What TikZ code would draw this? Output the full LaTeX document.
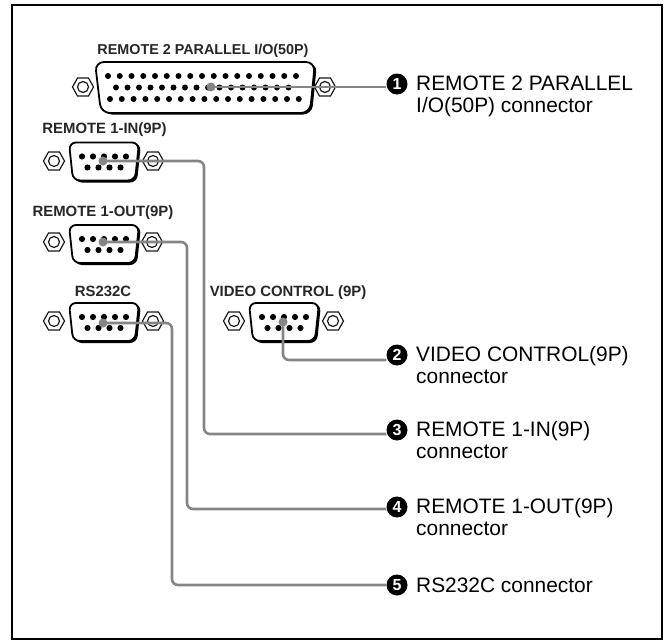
\documentclass[tikz,border=0pt]{standalone}
\usepackage{fontspec}
\setmainfont{Liberation Sans}
\definecolor{leadgray}{HTML}{858585}
\tikzset{
  x=1pt,y=-1pt,
  frame/.style={draw=black,line width=2pt},
  lead/.style={draw=leadgray,line width=2.6pt,rounded corners=6pt},
  pindot/.style={circle,fill=leadgray,inner sep=0pt,minimum size=9pt},
  badge/.style={circle,fill=black,text=white,inner sep=0pt,minimum size=21pt,font=\fontsize{16}{16}\selectfont\bfseries},
  desc/.style={anchor=base west,inner sep=0pt,align=left,font=\fontsize{20.9}{21.6}\selectfont},
  head/.style={inner sep=0pt,font=\fontsize{14.9}{15}\selectfont\bfseries,text=black!85},
  headwide/.style={inner sep=0pt,font=\fontsize{14.35}{15}\selectfont\bfseries,text=black!85},
  shell/.style={draw=black,fill=white,line width=1.8pt},
  pic nut/.style={draw=black!90,fill=white,line width=1.2pt},
  nut/.pic={
    \draw[pic nut] (-10.5,0)--(-5.5,-9)--(5.5,-9)--(10.5,0)--(5.5,9)--(-5.5,9)--cycle;
    \draw[pic nut] (0,0) circle[radius=5.5];
  },
  conn9/.pic={
    \fill[black,rounded corners=7pt] (-34,-18)--(37,-18)--(33,21)--(-29,21)--cycle;
    \draw[shell,rounded corners=7pt] (-35,-19)--(35,-19)--(31,19)--(-31,19)--cycle;
    \foreach \px in {-22,-11,0,11,22}{\fill (\px,-5) circle[radius=3.1];}
    \foreach \px in {-16.5,-5.5,5.5,16.5}{\fill (\px,6) circle[radius=3.1];}
  },
  conn50/.pic={
    \fill[black,rounded corners=9pt] (-109,-24.5)--(112,-24.5)--(107,27)--(-102,27)--cycle;
    \draw[shell,rounded corners=9pt] (-110,-25.5)--(110,-25.5)--(105,25.5)--(-104,25.5)--cycle;
    \foreach \k in {0,...,16}{\fill ({-97+11.75*\k},-11.5) circle[radius=3];}
    \foreach \k in {0,...,15}{\fill ({-89+11.5*\k},0) circle[radius=3];}
    \foreach \k in {0,...,16}{\fill ({-95+11.8*\k},11.5) circle[radius=3];}
  },
}
\begin{document}
\begin{tikzpicture}
\useasboundingbox (0,0) rectangle (665,640);
\path[frame] (12,5) rectangle (662,639);

% connectors
\pic at (83,87) {nut}; \pic at (325,87) {nut}; \pic at (205,87.5) {conn50};
\pic at (54,161) {nut}; \pic at (153,161) {nut}; \pic at (104,161.5) {conn9};
\pic at (54,242) {nut}; \pic at (152,242) {nut}; \pic at (104,244) {conn9};
\pic at (54,321) {nut}; \pic at (153,321) {nut}; \pic at (104,322) {conn9};
\pic at (234,321) {nut}; \pic at (333,321) {nut}; \pic at (284,322) {conn9};

% headings
\node[headwide] (h1) at (203,51) {REMOTE 2 PARALLEL I/O(50P)};
\node[head] (h2) at (104.5,130) {REMOTE 1-IN(9P)};
\node[head] (h3) at (103,213) {REMOTE 1-OUT(9P)};
\node[head] (h4) at (103,291) {RS232C};
\node[head] (h5) at (288,293) {VIDEO CONTROL (9P)};

% badges and descriptions
\node[badge] (b1) at (397,84) {1};
\node[badge] (b2) at (397,355) {2};
\node[badge] (b3) at (397,430) {3};
\node[badge] (b4) at (397,507) {4};
\node[badge] (b5) at (397,585) {5};
\node[desc] (t1) at (416,112) {REMOTE 2 PARALLEL\\I/O(50P) connector};
\node[desc] (t2) at (416,383) {VIDEO CONTROL(9P)\\connector};
\node[desc] (t3) at (416,458) {REMOTE 1-IN(9P)\\connector};
\node[desc] (t4) at (416,535) {REMOTE 1-OUT(9P)\\connector};
\node[desc] (t5) at (416,592) {RS232C connector};

% lead ends
\node[pindot] (d1) at (211,87) {};
\node[pindot] (d2) at (283,322) {};
\node[pindot] (d3) at (103,161) {};
\node[pindot] (d4) at (103,242) {};
\node[pindot] (d5) at (103,323) {};
\coordinate (c2) at (283,360);
\coordinate (c3) at (204,434);
\coordinate (c4) at (187,509);
\coordinate (c5) at (172,585);

\draw[lead] (d1.center) -- (d1.center -| b1.west);
\draw[lead] (d2.center) -- (c2) -- (c2 -| b2.west);
\draw[lead] (d3.center) -| (c3) -- (c3 -| b3.west);
\draw[lead] (d4.center) -| (c4) -- (c4 -| b4.west);
\draw[lead] (d5.center) -| (c5) -- (c5 -| b5.west);
\end{tikzpicture}
\end{document}
